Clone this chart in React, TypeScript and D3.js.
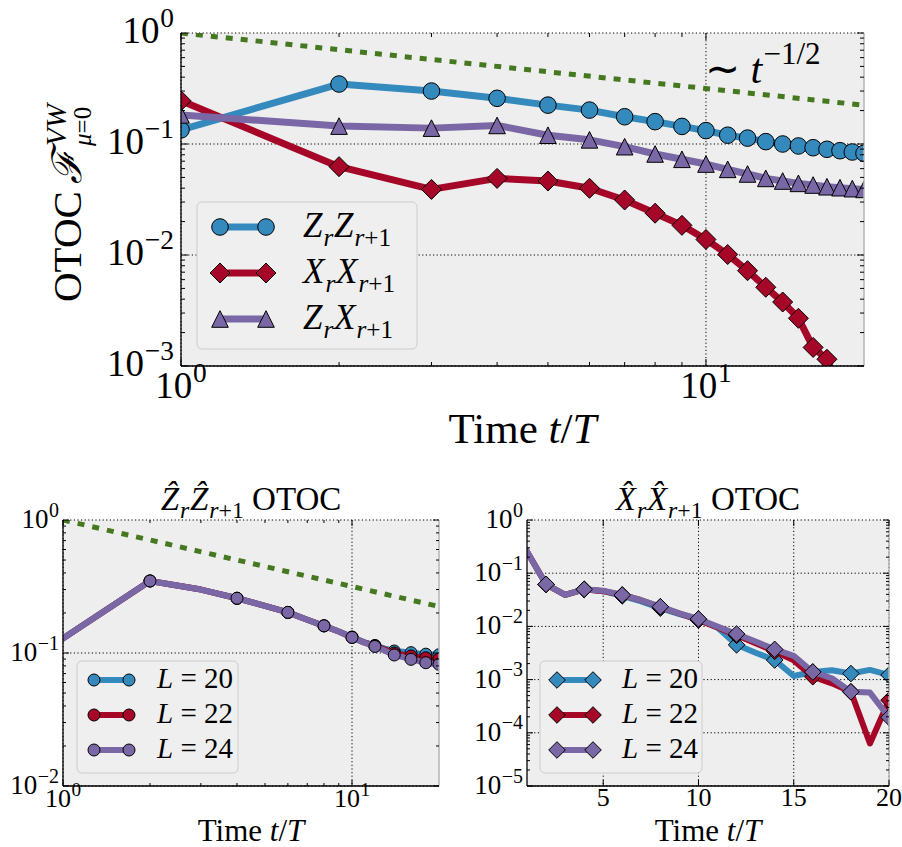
import React from 'react';
import * as d3 from 'd3';

// ---------------- data ----------------
const timeSteps = [1, 2, 3, 4, 5, 6, 7, 8, 9, 10, 11, 12, 13, 14, 15, 16, 17, 18, 19, 20];

// top panel (L = 24)
const topZZ = [0.134, 0.347, 0.3, 0.258, 0.224, 0.202, 0.176, 0.159, 0.144, 0.132, 0.12, 0.113, 0.105, 0.1, 0.096, 0.0926, 0.0896, 0.087, 0.0847, 0.0824];
const topXX = [0.245, 0.0625, 0.039, 0.049, 0.0464, 0.0399, 0.0313, 0.0238, 0.0185, 0.0138, 0.0101, 0.00722, 0.00512, 0.00377, 0.00269, 0.00147, 0.00115, 0.00059, 0.00057, 0.000195];
const topZX = [0.183, 0.145, 0.139, 0.147, 0.12, 0.109, 0.0946, 0.0813, 0.0728, 0.066, 0.0591, 0.0537, 0.049, 0.0464, 0.0442, 0.0427, 0.0412, 0.0404, 0.0396, 0.039];

// bottom-left: Z Z OTOC for several L
const zzL20 = [0.129, 0.348, 0.3, 0.258, 0.226, 0.202, 0.178, 0.16, 0.145, 0.132, 0.121, 0.114, 0.108, 0.1035, 0.102, 0.1006, 0.099, 0.098, 0.0975, 0.097];
const zzL22 = [0.129, 0.348, 0.3, 0.258, 0.226, 0.202, 0.178, 0.16, 0.145, 0.131, 0.12, 0.113, 0.106, 0.1, 0.097, 0.095, 0.093, 0.092, 0.091, 0.09];
const zzL24 = [0.129, 0.348, 0.3, 0.258, 0.226, 0.202, 0.178, 0.16, 0.145, 0.131, 0.12, 0.112, 0.104, 0.0966, 0.093, 0.0896, 0.087, 0.0845, 0.083, 0.0822];

// bottom-right: X X OTOC for several L
const xxL20 = [0.254, 0.0618, 0.039, 0.0498, 0.046, 0.0375, 0.0295, 0.022, 0.017, 0.0135, 0.0095, 0.0045, 0.0032, 0.00233, 0.00117, 0.00139, 0.0015, 0.0013, 0.00152, 0.00122];
const xxL22 = [0.254, 0.0618, 0.039, 0.0498, 0.046, 0.039, 0.031, 0.0232, 0.0175, 0.0132, 0.0095, 0.0068, 0.0048, 0.0034, 0.0023, 0.00113, 0.00085, 0.00059, 0.000063, 0.00041];
const xxL24 = [0.254, 0.0618, 0.039, 0.0498, 0.047, 0.039, 0.031, 0.0235, 0.0176, 0.0138, 0.0099, 0.0072, 0.0052, 0.0037, 0.0028, 0.00139, 0.00106, 0.00059, 0.00057, 0.000195];

// power-law guide ~ t^(-1/2): end points
const guideTimes = [1, 20];
const guideValues = [1, 0.2236];

const systemSizes = ['20', '22', '24'];
const topExps = [0, -1, -2, -3];
const blExps = [0, -1, -2];
const brExps = [0, -1, -2, -3, -4, -5];
const brXTicks = [5, 10, 15, 20];

// ---------------- style ----------------
const BLUE = '#348ABD';
const RED = '#A60628';
const PURPLE = '#7A68A6';
const GREEN = '#467821';
const serif = "'Liberation Serif', 'Times New Roman', serif";

type Part = { t: string; it?: boolean; sc?: number; off?: number; dx?: number };

function MText({ x, y, size, anchor = 'start', parts }: { x: number; y: number; size: number; anchor?: string; parts: Part[] }) {
  let prev = 0;
  return (
    <text x={x} y={y} fontSize={size} textAnchor={anchor as any} fontFamily={serif} fill="#000" style={{ whiteSpace: 'pre' }}>
      {parts.map((p, i) => {
        const off = p.off ?? 0;
        const dy = (prev - off) * size;
        prev = off;
        return (
          <tspan key={i} dy={dy} dx={(p.dx ?? 0) * size} fontStyle={p.it ? 'italic' : 'normal'} fontSize={size * (p.sc ?? 1)}>
            {p.t}
          </tspan>
        );
      })}
    </text>
  );
}

function pow10Parts(e: number): Part[] {
  return [{ t: '10' }, { t: e < 0 ? '\u2212' + -e : String(e), sc: 0.74, off: 0.42, dx: 0.02 }];
}

function logMinors(lo: number, hi: number) {
  const out: number[] = [];
  for (let e = Math.floor(Math.log10(lo)); e <= Math.ceil(Math.log10(hi)); e++) {
    for (let k = 2; k <= 9; k++) {
      const v = k * Math.pow(10, e);
      if (v > lo * 1.0001 && v < hi * 0.9999) out.push(v);
    }
  }
  return out;
}

function Marker({ kind, x, y, s, fill }: { kind: string; x: number; y: number; s: number; fill: string }) {
  if (kind === 'o') return <circle cx={x} cy={y} r={s} fill={fill} stroke="#000" strokeWidth={1} />;
  if (kind === 'D')
    return <path d={`M${x},${y - s}L${x + s},${y}L${x},${y + s}L${x - s},${y}Z`} fill={fill} stroke="#000" strokeWidth={1} strokeLinejoin="miter" />;
  return <path d={`M${x},${y - s}L${x + s},${y + s}L${x - s},${y + s}Z`} fill={fill} stroke="#000" strokeWidth={1} strokeLinejoin="miter" />;
}

type Series = { values: number[]; color: string; marker: string; ms: number; lw: number; every: number };

function Frame({ id, x0, x1, y0, y1, xs, ys, xMajor, xMinor, yMajor, yMinor, majLen, minLen, children }: any) {
  return (
    <g>
      <defs>
        <clipPath id={id}>
          <rect x={x0} y={y0} width={x1 - x0} height={y1 - y0} />
        </clipPath>
      </defs>
      <rect x={x0} y={y0} width={x1 - x0} height={y1 - y0} fill="#eeeeee" />
      {xMajor.map((v: number, i: number) => (
        <line key={'gx' + i} x1={xs(v)} x2={xs(v)} y1={y0} y2={y1} stroke="#000" strokeWidth={1} strokeDasharray="1.2,2.4" />
      ))}
      {yMajor.map((v: number, i: number) => (
        <line key={'gy' + i} x1={x0} x2={x1} y1={ys(v)} y2={ys(v)} stroke="#000" strokeWidth={1} strokeDasharray="1.2,2.4" />
      ))}
      <g clipPath={`url(#${id})`}>{children}</g>
      <line x1={x1} x2={x1} y1={y0} y2={y1} stroke="#b5b5b5" strokeWidth={1.5} />
      <line x1={x0} x2={x0} y1={y0} y2={y1} stroke="#000" strokeWidth={1.3} />
      <line x1={x0} x2={x1} y1={y1} y2={y1} stroke="#000" strokeWidth={1.3} />
      {[...yMajor.map((v: number) => [v, majLen]), ...yMinor.map((v: number) => [v, minLen])].map(([v, L]: any, i: number) => (
        <g key={'ty' + i}>
          <line x1={x0} x2={x0 + L} y1={ys(v)} y2={ys(v)} stroke="#000" strokeWidth={1} />
          <line x1={x1} x2={x1 - L} y1={ys(v)} y2={ys(v)} stroke="#000" strokeWidth={1} />
        </g>
      ))}
      {[...xMajor.map((v: number) => [v, majLen]), ...xMinor.map((v: number) => [v, minLen])].map(([v, L]: any, i: number) => (
        <g key={'tx' + i}>
          <line x1={xs(v)} x2={xs(v)} y1={y1} y2={y1 - L} stroke="#000" strokeWidth={1} />
          <line x1={xs(v)} x2={xs(v)} y1={y0} y2={y0 + L} stroke="#000" strokeWidth={1} />
        </g>
      ))}
    </g>
  );
}

function SeriesPlot({ xs, ys, s }: { xs: any; ys: any; s: Series }) {
  const line = d3
    .line<number>()
    .x((_, i) => xs(timeSteps[i]))
    .y((v) => ys(v));
  return (
    <g>
      <path d={line(s.values) || ''} fill="none" stroke={s.color} strokeWidth={s.lw} strokeLinejoin="round" strokeLinecap="square" />
      {s.values.map((v, i) =>
        (i + 1) % s.every === 0 || s.every === 1 ? (
          <Marker key={i} kind={s.marker} x={xs(timeSteps[i])} y={ys(v)} s={s.ms} fill={s.color} />
        ) : null
      )}
    </g>
  );
}

function Guide({ xs, ys, lw }: any) {
  const line = d3
    .line<number>()
    .x((_, i) => xs(guideTimes[i]))
    .y((v) => ys(v));
  return <path d={line(guideValues) || ''} fill="none" stroke={GREEN} strokeWidth={lw} strokeDasharray="7,8" />;
}

function LegendRow({ x1, x2, y, color, marker, ms, lw, tx, size, parts }: any) {
  return (
    <g>
      <line x1={x1} x2={x2} y1={y} y2={y} stroke={color} strokeWidth={lw} />
      <Marker kind={marker} x={x1} y={y} s={ms} fill={color} />
      <Marker kind={marker} x={x2} y={y} s={ms} fill={color} />
      <MText x={tx} y={y + size * 0.28} size={size} parts={parts} />
    </g>
  );
}

const sub = (t: string, it = true): Part => ({ t, it, sc: 0.72, off: -0.25, dx: 0.03 });

export default function App() {
  const tX0 = 181, tX1 = 864, tY0 = 33, tY1 = 366;
  const tx = d3.scaleLog().domain([1, 20]).range([tX0, tX1]);
  const ty = d3.scaleLog().domain([1e-3, 1]).range([tY1, tY0]);
  const topSeries: Series[] = [
    { values: topZZ, color: BLUE, marker: 'o', ms: 8.3, lw: 7, every: 1 },
    { values: topXX, color: RED, marker: 'D', ms: 10, lw: 7, every: 1 },
    { values: topZX, color: PURPLE, marker: '^', ms: 8.3, lw: 7, every: 1 },
  ];

  const lX0 = 63, lX1 = 439, bY0 = 520, bY1 = 786;
  const lx = d3.scaleLog().domain([1, 20]).range([lX0, lX1]);
  const ly = d3.scaleLog().domain([1e-2, 1]).range([bY1, bY0]);
  const blSeries: Series[] = [
    { values: zzL20, color: BLUE, marker: 'o', ms: 6, lw: 6, every: 2 },
    { values: zzL22, color: RED, marker: 'o', ms: 6, lw: 6, every: 2 },
    { values: zzL24, color: PURPLE, marker: 'o', ms: 6, lw: 6, every: 2 },
  ];

  const rX0 = 527, rX1 = 889;
  const rx = d3.scaleLinear().domain([1, 20]).range([rX0, rX1]);
  const ry = d3.scaleLog().domain([1e-5, 1]).range([bY1, bY0]);
  const brSeries: Series[] = [
    { values: xxL20, color: BLUE, marker: 'D', ms: 8.3, lw: 6, every: 2 },
    { values: xxL22, color: RED, marker: 'D', ms: 8.3, lw: 6, every: 2 },
    { values: xxL24, color: PURPLE, marker: 'D', ms: 8.3, lw: 6, every: 2 },
  ];
  const colors = [BLUE, RED, PURPLE];

  const opName = (a: string, b: string): Part[] => [
    { t: a, it: true },
    sub('r'),
    { t: b, it: true, off: 0, dx: 0.02 },
    sub('r'),
    { t: '+1', sc: 0.72, off: -0.25 },
  ];
  const topLegendParts: Part[][] = [opName('Z', 'Z'), opName('X', 'X'), opName('Z', 'X')];
  const topMarkers = ['o', 'D', '^'];
  const topMs = [8.3, 10, 8.3];

  const timeLabel: Part[] = [{ t: 'Time ' }, { t: 't', it: true }, { t: '/' }, { t: 'T', it: true }];
  const lParts = (L: string): Part[] => [{ t: 'L', it: true }, { t: ' = ' + L }];

  return (
    <svg width={902} height={847} style={{ position: 'absolute', left: 0, top: 0, background: '#fff' }} fontFamily={serif}>
      {/* ================= TOP ================= */}
      <Frame
        id="clipTop"
        x0={tX0} x1={tX1} y0={tY0} y1={tY1}
        xs={tx} ys={ty}
        xMajor={[1, 10]} xMinor={logMinors(1, 20)}
        yMajor={topExps.map((e) => Math.pow(10, e))} yMinor={logMinors(1e-3, 1)}
        majLen={7} minLen={4}
      >
        <Guide xs={tx} ys={ty} lw={5} />
        {topSeries.map((s, i) => (
          <SeriesPlot key={i} xs={tx} ys={ty} s={s} />
        ))}
      </Frame>
      {topExps.map((e) => (
        <MText key={e} x={tX0 - 7} y={ty(Math.pow(10, e)) + 10} size={37} anchor="end" parts={pow10Parts(e)} />
      ))}
      {[0, 1].map((e) => (
        <MText key={e} x={tx(Math.pow(10, e))} y={398} size={37} anchor="middle" parts={pow10Parts(e)} />
      ))}
      <MText x={(tX0 + tX1) / 2} y={443} size={43} anchor="middle" parts={timeLabel} />
      <g transform="translate(81,196) rotate(-90)">
        <text x={-106} y={0} fontSize={41} fontFamily={serif}>OTOC</text>
        <text x={12} y={0} fontSize={41} fontFamily={serif} fontStyle="italic">{'\u2131'}</text>
        <text x={50} y={-15} fontSize={29} fontFamily={serif} fontStyle="italic">VW</text>
        <text x={50} y={10} fontSize={25} fontFamily={serif}>
          <tspan fontStyle="italic">{'\u03bc'}</tspan>=0
        </text>
      </g>
      <MText
        x={705}
        y={83}
        size={42}
        parts={[{ t: '\u223c ' }, { t: 't', it: true }, { t: '\u22121/2', sc: 0.74, off: 0.45, dx: 0.03 }]}
      />
      <rect x={197} y={202} width={220} height={147} rx={5} fill="#efefef" stroke="#cccccc" strokeWidth={1} />
      {topLegendParts.map((p, i) => (
        <LegendRow
          key={i}
          x1={220} x2={266} y={227 + i * 46}
          color={colors[i]} marker={topMarkers[i]} ms={topMs[i]} lw={7}
          tx={303} size={35} parts={p}
        />
      ))}

      {/* ================= BOTTOM LEFT ================= */}
      <Frame
        id="clipBL"
        x0={lX0} x1={lX1} y0={bY0} y1={bY1}
        xs={lx} ys={ly}
        xMajor={[1, 10]} xMinor={logMinors(1, 20)}
        yMajor={blExps.map((e) => Math.pow(10, e))} yMinor={logMinors(1e-2, 1)}
        majLen={6} minLen={3}
      >
        <Guide xs={lx} ys={ly} lw={5} />
        {blSeries.map((s, i) => (
          <SeriesPlot key={i} xs={lx} ys={ly} s={s} />
        ))}
      </Frame>
      {blExps.map((e) => (
        <MText key={e} x={lX0 - 4} y={ly(Math.pow(10, e)) + 8} size={27} anchor="end" parts={pow10Parts(e)} />
      ))}
      {[0, 1].map((e) => (
        <MText key={e} x={lx(Math.pow(10, e))} y={807} size={26} anchor="middle" parts={pow10Parts(e)} />
      ))}
      <MText x={(lX0 + lX1) / 2} y={841} size={31} anchor="middle" parts={timeLabel} />
      <MText
        x={(lX0 + lX1) / 2}
        y={510}
        size={33}
        anchor="middle"
        parts={[...opName('Z\u0302', 'Z\u0302'), { t: ' OTOC', off: 0 }]}
      />
      <rect x={77} y={661} width={161} height={112} rx={5} fill="#efefef" stroke="#cccccc" strokeWidth={1} />
      {systemSizes.map((L, i) => (
        <LegendRow
          key={L}
          x1={94} x2={129} y={680 + i * 35}
          color={colors[i]} marker="o" ms={6} lw={6}
          tx={157} size={29}
          parts={lParts(L)}
        />
      ))}

      {/* ================= BOTTOM RIGHT ================= */}
      <Frame
        id="clipBR"
        x0={rX0} x1={rX1} y0={bY0} y1={bY1}
        xs={rx} ys={ry}
        xMajor={brXTicks} xMinor={[]}
        yMajor={brExps.map((e) => Math.pow(10, e))} yMinor={logMinors(1e-5, 1)}
        majLen={6} minLen={3}
      >
        {brSeries.map((s, i) => (
          <SeriesPlot key={i} xs={rx} ys={ry} s={s} />
        ))}
      </Frame>
      {brExps.map((e) => (
        <MText key={e} x={rX0 - 4} y={ry(Math.pow(10, e)) + 8} size={27} anchor="end" parts={pow10Parts(e)} />
      ))}
      {brXTicks.map((v) => (
        <text key={v} x={rx(v)} y={806} fontSize={26} textAnchor="middle" fontFamily={serif}>
          {v}
        </text>
      ))}
      <MText x={(rX0 + rX1) / 2} y={841} size={31} anchor="middle" parts={timeLabel} />
      <MText
        x={(rX0 + rX1) / 2}
        y={510}
        size={33}
        anchor="middle"
        parts={[...opName('X\u0302', 'X\u0302'), { t: ' OTOC', off: 0 }]}
      />
      <rect x={540} y={661} width={162} height={112} rx={5} fill="#efefef" stroke="#cccccc" strokeWidth={1} />
      {systemSizes.map((L, i) => (
        <LegendRow
          key={L}
          x1={557} x2={593} y={680 + i * 35}
          color={colors[i]} marker="D" ms={8.3} lw={6}
          tx={622} size={29}
          parts={lParts(L)}
        />
      ))}
    </svg>
  );
}
